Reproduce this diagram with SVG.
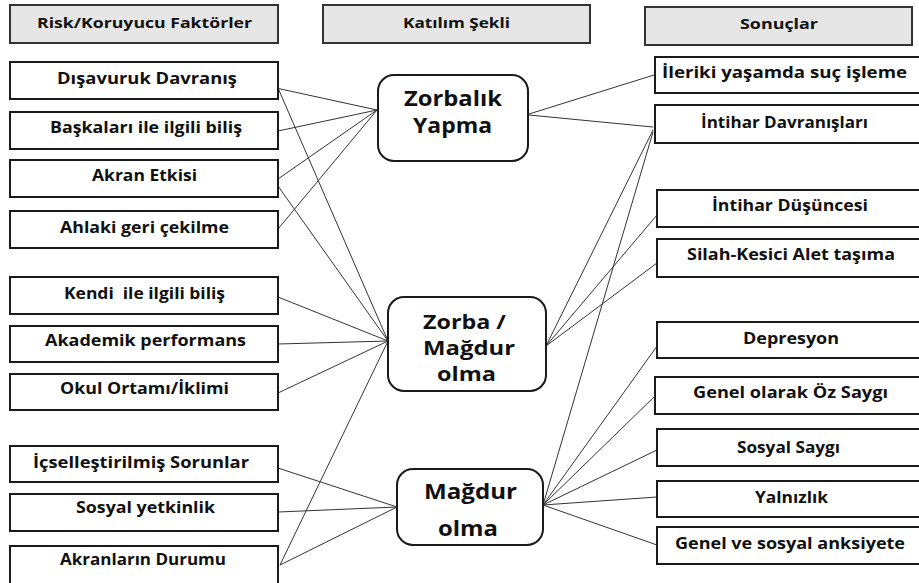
<svg xmlns="http://www.w3.org/2000/svg" width="919" height="583" viewBox="0 0 919 583">
<style>
.box{fill:#fff;stroke:#1a1a1a;stroke-width:2}
.hdr{fill:#e6e6e6;stroke:#333;stroke-width:2}
.node{fill:#fff;stroke:#1a1a1a;stroke-width:2}
.t{font-family:"Open Sans","Noto Sans",sans-serif;font-weight:bold;font-size:16px;fill:#111;text-anchor:middle}
.c{font-family:"Open Sans","Noto Sans",sans-serif;font-weight:bold;font-size:21px;fill:#111;text-anchor:middle}
.c2{font-family:"Open Sans","Noto Sans",sans-serif;font-weight:bold;font-size:19px;fill:#111;text-anchor:middle}
.h{font-family:"Open Sans","Noto Sans",sans-serif;font-weight:bold;font-size:15px;fill:#111;text-anchor:middle}
#connectors line{stroke:#333;stroke-width:1;fill:none}
</style>
<rect width="919" height="583" fill="#fff"/>
<g id="connectors">
<line x1="276" y1="88" x2="377" y2="110"/>
<line x1="278" y1="131" x2="377" y2="110"/>
<line x1="278" y1="179" x2="377" y2="110"/>
<line x1="278" y1="229" x2="377" y2="110"/>
<line x1="278" y1="88" x2="388" y2="341"/>
<line x1="278" y1="186" x2="388" y2="341"/>
<line x1="278" y1="297" x2="388" y2="341"/>
<line x1="278" y1="344" x2="388" y2="341"/>
<line x1="278" y1="393" x2="388" y2="341"/>
<line x1="280" y1="565" x2="388" y2="341"/>
<line x1="278" y1="468" x2="397" y2="507"/>
<line x1="278" y1="512" x2="397" y2="507"/>
<line x1="280" y1="565" x2="397" y2="507"/>
<line x1="529" y1="114" x2="654" y2="75"/>
<line x1="529" y1="115" x2="653" y2="127"/>
<line x1="653" y1="130" x2="546" y2="346"/>
<line x1="653" y1="132" x2="543" y2="505"/>
<line x1="657" y1="215" x2="546" y2="346"/>
<line x1="657" y1="263" x2="546" y2="346"/>
<line x1="660" y1="342" x2="543" y2="505"/>
<line x1="655" y1="396" x2="543" y2="505"/>
<line x1="657" y1="450" x2="543" y2="505"/>
<line x1="657" y1="497" x2="543" y2="505"/>
<line x1="657" y1="545" x2="543" y2="505"/>
</g>
<g id="hdr-risk"><rect class="hdr" x="10" y="5" width="268" height="38"/><text class="h" x="144.5" y="28" textLength="215" lengthAdjust="spacingAndGlyphs">Risk/Koruyucu Faktörler</text></g>
<g id="hdr-katilim"><rect class="hdr" x="323" y="5" width="267" height="38"/><text class="h" x="456.5" y="28" textLength="107" lengthAdjust="spacingAndGlyphs">Katılım Şekli</text></g>
<g id="hdr-sonuclar"><rect class="hdr" x="645" y="7" width="267" height="38"/><text class="h" x="779" y="29" textLength="78" lengthAdjust="spacingAndGlyphs">Sonuçlar</text></g>

<g id="l1"><rect class="box" x="10" y="62" width="268" height="37"/><text class="t" x="147" y="84" textLength="180" lengthAdjust="spacingAndGlyphs">Dışavuruk Davranış</text></g>
<g id="l2"><rect class="box" x="10" y="112" width="268" height="37"/><text class="t" x="146" y="133" textLength="192" lengthAdjust="spacingAndGlyphs">Başkaları ile ilgili biliş</text></g>
<g id="l3"><rect class="box" x="10" y="160" width="268" height="37"/><text class="t" x="144.5" y="181" textLength="105" lengthAdjust="spacingAndGlyphs">Akran Etkisi</text></g>
<g id="l4"><rect class="box" x="10" y="211" width="268" height="37"/><text class="t" x="144.5" y="233" textLength="169" lengthAdjust="spacingAndGlyphs">Ahlaki geri çekilme</text></g>
<g id="l5"><rect class="box" x="10" y="277" width="268" height="37"/><text class="t" x="144.5" y="299" textLength="161" lengthAdjust="spacingAndGlyphs" xml:space="preserve">Kendi  ile ilgili biliş</text></g>
<g id="l6"><rect class="box" x="10" y="326" width="268" height="36"/><text class="t" x="145.5" y="346" textLength="201" lengthAdjust="spacingAndGlyphs">Akademik performans</text></g>
<g id="l7"><rect class="box" x="10" y="374" width="268" height="36"/><text class="t" x="144.5" y="394" textLength="169" lengthAdjust="spacingAndGlyphs">Okul Ortamı/İklimi</text></g>
<g id="l8"><rect class="box" x="10" y="446" width="268" height="36"/><text class="t" x="141" y="468" textLength="216" lengthAdjust="spacingAndGlyphs">İçselleştirilmiş Sorunlar</text></g>
<g id="l9"><rect class="box" x="10" y="494" width="268" height="37"/><text class="t" x="145.5" y="513" textLength="139" lengthAdjust="spacingAndGlyphs">Sosyal yetkinlik</text></g>
<g id="l10"><rect class="box" x="10" y="546" width="268" height="40"/><text class="t" x="143" y="565" textLength="166" lengthAdjust="spacingAndGlyphs">Akranların Durumu</text></g>

<g id="n-zorbalik"><rect class="node" x="378" y="75" width="150" height="86" rx="16"/><text class="c" x="453" y="106" textLength="98" lengthAdjust="spacingAndGlyphs">Zorbalık</text><text class="c" x="452.5" y="133" textLength="79" lengthAdjust="spacingAndGlyphs">Yapma</text></g>
<g id="n-zorba-magdur"><rect class="node" x="388" y="297" width="158" height="94" rx="16"/><text class="c2" x="464.5" y="329" textLength="83" lengthAdjust="spacingAndGlyphs">Zorba /</text><text class="c2" x="469" y="355" textLength="92" lengthAdjust="spacingAndGlyphs">Mağdur</text><text class="c2" x="466.5" y="381" textLength="59" lengthAdjust="spacingAndGlyphs">olma</text></g>
<g id="n-magdur"><rect class="node" x="397" y="469" width="146" height="76" rx="16"/><text class="c" x="470.5" y="499" textLength="93" lengthAdjust="spacingAndGlyphs">Mağdur</text><text class="c" x="468" y="536" textLength="60" lengthAdjust="spacingAndGlyphs">olma</text></g>

<g id="r1"><rect class="box" x="655" y="57" width="270" height="36"/><text class="t" x="784.5" y="78" textLength="245" lengthAdjust="spacingAndGlyphs">İleriki yaşamda suç işleme</text></g>
<g id="r2"><rect class="box" x="655" y="105" width="270" height="38"/><text class="t" x="784.5" y="128" textLength="167" lengthAdjust="spacingAndGlyphs">İntihar Davranışları</text></g>
<g id="r3"><rect class="box" x="657" y="190" width="268" height="37"/><text class="t" x="790" y="211" textLength="156" lengthAdjust="spacingAndGlyphs">İntihar Düşüncesi</text></g>
<g id="r4"><rect class="box" x="657" y="239" width="268" height="38"/><text class="t" x="791" y="260" textLength="208" lengthAdjust="spacingAndGlyphs">Silah-Kesici Alet taşıma</text></g>
<g id="r5"><rect class="box" x="657" y="322" width="268" height="36"/><text class="t" x="791" y="344" textLength="96" lengthAdjust="spacingAndGlyphs">Depresyon</text></g>
<g id="r6"><rect class="box" x="655" y="377" width="270" height="37"/><text class="t" x="790.5" y="398" textLength="195" lengthAdjust="spacingAndGlyphs">Genel olarak Öz Saygı</text></g>
<g id="r7"><rect class="box" x="657" y="429" width="268" height="37"/><text class="t" x="788.5" y="453" textLength="103" lengthAdjust="spacingAndGlyphs">Sosyal Saygı</text></g>
<g id="r8"><rect class="box" x="657" y="481" width="268" height="36"/><text class="t" x="791.5" y="503" textLength="73" lengthAdjust="spacingAndGlyphs">Yalnızlık</text></g>
<g id="r9"><rect class="box" x="657" y="527" width="268" height="37"/><text class="t" x="790" y="549" textLength="230" lengthAdjust="spacingAndGlyphs">Genel ve sosyal anksiyete</text></g>
</svg>
